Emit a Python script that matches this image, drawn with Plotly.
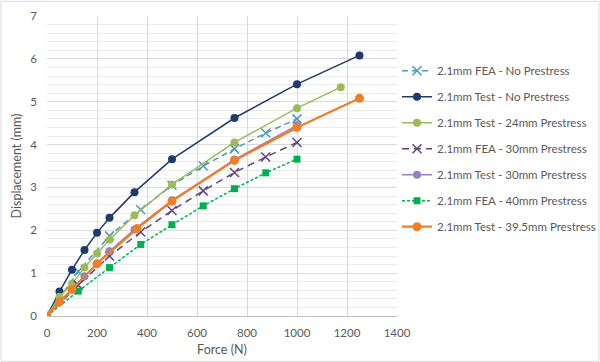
import plotly.graph_objects as go

# ---- data ----
fea_x = [0, 125, 250, 375, 500, 625, 750, 875, 1000]
fea_nopre = [0, 1.04, 1.87, 2.48, 3.05, 3.50, 3.90, 4.27, 4.60]
fea_30 = [0, 0.72, 1.40, 1.96, 2.46, 2.92, 3.35, 3.71, 4.05]
fea_40 = [0, 0.58, 1.13, 1.67, 2.13, 2.57, 2.97, 3.34, 3.66]

test_nopre_x = [0, 50, 100, 150, 200, 250, 350, 500, 750, 1000, 1250]
test_nopre = [0, 0.57, 1.08, 1.54, 1.94, 2.29, 2.89, 3.66, 4.62, 5.41, 6.08]

test_24_x = [0, 50, 100, 150, 200, 250, 350, 500, 750, 1000, 1175]
test_24 = [0, 0.45, 0.75, 1.13, 1.46, 1.78, 2.35, 3.07, 4.05, 4.85, 5.34]

test_30_x = [0, 150, 250, 350, 500, 750, 1000]
test_30 = [0, 0.93, 1.51, 2.02, 2.70, 3.65, 4.45]

test_395_x = [0, 50, 100, 200, 360, 500, 750, 1000, 1250]
test_395 = [0, 0.33, 0.62, 1.22, 2.04, 2.68, 3.63, 4.40, 5.08]

names = [
    "2.1mm FEA - No Prestress",
    "2.1mm Test - No Prestress",
    "2.1mm Test - 24mm Prestress",
    "2.1mm FEA - 30mm Prestress",
    "2.1mm Test - 30mm Prestress",
    "2.1mm FEA - 40mm Prestress",
    "2.1mm Test - 39.5mm Prestress",
]

series = [
    (fea_x, fea_nopre, "#4A9BBA", "6px,4px", "x-thin", 1.5, 8),
    (test_nopre_x, test_nopre, "#1F3B6E", "solid", "circle", 1.5, 8),
    (test_24_x, test_24, "#9BBB59", "solid", "circle", 1.5, 8),
    (fea_x, fea_30, "#5C4584", "7px,5px", "x-thin", 1.5, 8),
    (test_30_x, test_30, "#9580BE", "solid", "circle", 1.5, 8),
    (fea_x, fea_40, "#00B050", "3px,2px", "square", 1.5, 7),
    (test_395_x, test_395, "#F07E26", "solid", "circle", 2.25, 9),
]

fig = go.Figure()
for i, (xs, ys, col, dash, sym, lw, ms) in enumerate(series):
    marker = dict(symbol=sym, size=ms, color=col)
    if sym == "x-thin":
        marker["line"] = dict(color=col, width=1.5)
        marker["size"] = 9
    fig.add_trace(go.Scatter(
        x=xs, y=ys, name=names[i], mode="lines+markers",
        line=dict(color=col, width=lw, dash=dash),
        marker=marker, legendgroup=str(i),
    ))

fig.update_layout(
    width=600, height=362,
    margin=dict(l=47, r=203, t=16, b=46, autoexpand=False),
    paper_bgcolor="white", plot_bgcolor="white",
    font=dict(family="Lato", size=11, color="#595959"),
    legend=dict(x=1.0, xanchor="left", y=0.866, yanchor="top",
                font=dict(family="Lato", size=11.5, color="#595959"),
                tracegroupgap=7, bgcolor="rgba(0,0,0,0)"),
    xaxis=dict(range=[0, 1400], tickmode="linear", tick0=0, dtick=200,
               showgrid=True, gridcolor="#D9D9D9", gridwidth=1, zeroline=False,
               showline=True, linecolor="#BFBFBF", ticks="", automargin=False,
               ticklabelstandoff=6,
               title=dict(text="Force (N)", font=dict(size=12.5), standoff=7),
               tickfont=dict(size=11.5)),
    yaxis=dict(range=[0, 7], tickmode="linear", tick0=0, dtick=1,
               showgrid=True, gridcolor="#D9D9D9", gridwidth=1, zeroline=False,
               showline=False, ticks="", automargin=False,
               ticklabelstandoff=9,
               minor=dict(dtick=0.2, showgrid=True, gridcolor="#EBEBEB", gridwidth=1),
               title=dict(text="Displacement (mm)", font=dict(size=12.5), standoff=5),
               tickfont=dict(size=11.5)),
    shapes=[dict(type="rect", xref="paper", yref="paper", x0=-0.1314, x1=1.577,
                 y0=-0.151, y1=1.049, line=dict(color="#D9D9D9", width=1))],
)

fig.write_html("out.html", config={"displayModeBar": False},
               post_script="document.body.style.margin='0';")
